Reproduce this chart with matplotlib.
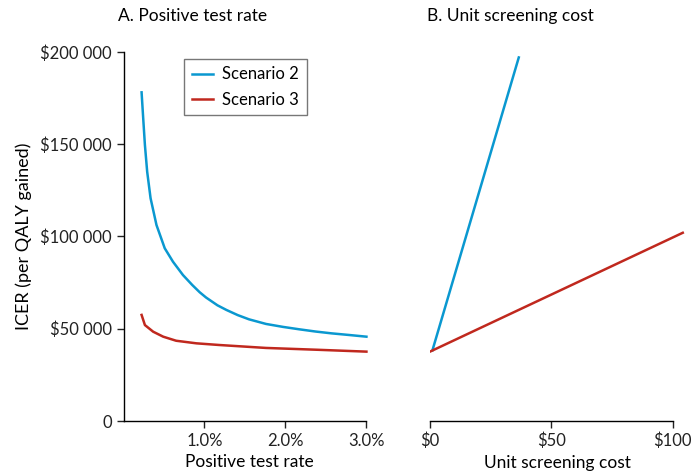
import matplotlib.pyplot as plt

plt.rcParams['font.family'] = ['Lato', 'DejaVu Sans']
plt.rcParams['font.size'] = 12

# panel A: positive test rate (fraction) vs ICER
rate_s2 = [0.00223, 0.00243, 0.00264, 0.00292, 0.00334, 0.00407, 0.00509, 0.00611,
           0.00734, 0.00849, 0.0094, 0.0102, 0.0116, 0.0127, 0.0141, 0.0155, 0.0176,
           0.0197, 0.0217, 0.0237, 0.0257, 0.0279, 0.030]
icer_s2 = [178100, 164000, 149600, 135100, 120700, 106200, 93600, 86300,
           79100, 73700, 69800, 66900, 62700, 60200, 57400, 55100, 52600,
           51000, 49700, 48500, 47500, 46600, 45700]
rate_s3 = [0.00223, 0.00264, 0.00366, 0.0049, 0.0065, 0.009, 0.0118, 0.0176,
           0.024, 0.030]
icer_s3 = [57500, 52000, 48400, 45700, 43500, 42100, 41200, 39600,
           38600, 37600]

# panel B: unit screening cost vs ICER
cost_s2 = [1, 36.6]
icer_b2 = [38300, 197000]
cost_s3 = [0, 104.2]
icer_b3 = [37600, 102000]

blue = '#0a98d0'
red = '#c0281e'

fig = plt.figure(figsize=(6.94, 4.72), dpi=100)
ax1 = fig.add_axes([0.178, 0.108, 0.364, 0.782])
ax2 = fig.add_axes([0.6196, 0.108, 0.367, 0.782])

ax1.plot(rate_s2, icer_s2, color=blue, lw=1.8, label='Scenario 2')
ax1.plot(rate_s3, icer_s3, color=red, lw=1.8, label='Scenario 3')
ax2.plot(cost_s2, icer_b2, color=blue, lw=1.8)
ax2.plot(cost_s3, icer_b3, color=red, lw=1.8)

for ax in (ax1, ax2):
    ax.set_ylim(0, 200000)
    for s in ('top', 'right'):
        ax.spines[s].set_visible(False)
    ax.tick_params(direction='out', length=5, width=1, colors='#222222',
                   labelcolor='#222222', labelsize=12)
    ax.spines['bottom'].set_linewidth(1)
    ax.spines['left'].set_linewidth(1)

ax1.set_xlim(0, 0.0312)
ax1.spines['bottom'].set_bounds(0, 0.03)
ax1.set_xticks([0.01, 0.02, 0.03])
ax1.set_xticklabels(['1.0%', '2.0%', '3.0%'])
ax1.set_yticks([0, 50000, 100000, 150000, 200000])
ax1.set_yticklabels(['0', '$50 000', '$100 000', '$150 000', '$200 000'])
ax1.set_xlabel('Positive test rate', fontsize=12.5, labelpad=4)
ax1.set_ylabel('ICER (per QALY gained)', fontsize=13, labelpad=6)
ax1.set_title('A. Positive test rate', loc='left', fontsize=12.5, x=-0.02, pad=22)

ax2.set_xlim(0, 105)
ax2.spines['bottom'].set_bounds(0, 100)
ax2.spines['left'].set_visible(False)
ax2.tick_params(axis='y', left=False, labelleft=False)
ax2.set_xticks([0, 50, 100])
ax2.set_xticklabels(['$0', '$50', '$100'])
ax2.set_xlabel('Unit screening cost', fontsize=12.5, labelpad=4)
ax2.set_title('B. Unit screening cost', loc='left', fontsize=12.5, x=-0.01, pad=22)

leg = ax1.legend(loc='upper left', bbox_to_anchor=(0.24, 0.981), borderaxespad=0,
                 frameon=True, fancybox=False, edgecolor='#555555',
                 handlelength=1.3, handletextpad=0.55, borderpad=0.45,
                 labelspacing=0.55, fontsize=12)
leg.get_frame().set_linewidth(1)

fig.savefig('out.png', dpi=100)
